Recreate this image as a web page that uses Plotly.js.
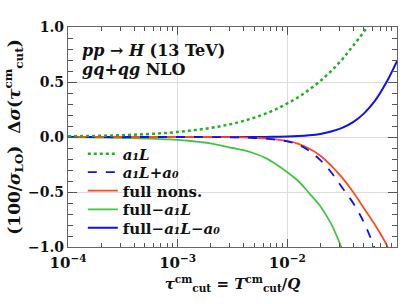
<!DOCTYPE html>
<html><head><meta charset="utf-8">
<script src="https://cdn.plot.ly/plotly-3.0.1.min.js"></script>
<style>html,body{margin:0;padding:0;background:#fff}#chart{width:415px;height:304px}</style>
</head><body><div id="chart"></div>
<script>
var tau = [1.00e-4,1.26e-4,1.58e-4,2.00e-4,2.51e-4,3.16e-4,3.98e-4,5.01e-4,6.31e-4,7.94e-4,
           1.00e-3,1.26e-3,1.58e-3,2.00e-3,2.51e-3,3.16e-3,3.98e-3,5.01e-3,6.31e-3,7.94e-3,
           1.00e-2,1.26e-2,1.58e-2,2.00e-2,2.51e-2,3.16e-2,3.98e-2,5.01e-2,6.31e-2,7.94e-2,1.00e-1];
var a1L = [0.006,0.0075,0.009,0.011,0.014,0.017,0.021,0.025,0.031,0.037,
           0.046,0.056,0.068,0.082,0.100,0.120,0.146,0.176,0.212,0.254,
           0.305,0.362,0.43,0.51,0.60,0.705,0.83,0.96,1.12,1.3,1.5];
var a1La0 = [0,0,0,0,0,0,0,0,0,0,
             0,0,0,-0.001,-0.002,-0.003,-0.005,-0.009,-0.015,-0.025,
             -0.04,-0.07,-0.125,-0.21,-0.32,-0.46,-0.60,-0.78,-1.02,-1.3,-1.65];
var fullNons = [0,0,0,0,0,0,0,0,0,0,
                0,0,0,0,-0.001,-0.002,-0.004,-0.008,-0.013,-0.022,
                -0.036,-0.062,-0.105,-0.17,-0.26,-0.37,-0.50,-0.65,-0.80,-0.97,-1.2];
var fullMinusA1L = [-0.002,-0.003,-0.004,-0.005,-0.007,-0.009,-0.011,-0.014,-0.017,-0.021,
                    -0.026,-0.034,-0.045,-0.058,-0.078,-0.10,-0.12,-0.15,-0.19,-0.25,
                    -0.32,-0.40,-0.51,-0.63,-0.79,-1.02,-1.3,-1.6,-2.0,-2.4,-2.9];
var fullMinusA1LA0 = [0,0,0,0,0,0,0,0,0,0,
                      0,0,0,0,0,0,0,0,0,0.002,
                      0.004,0.008,0.015,0.028,0.05,0.083,0.135,0.215,0.33,0.49,0.69];
var xTickVals = [1e-4,1e-3,1e-2,1e-1];
var xTickText = ['<b>10<sup>\u22124</sup></b>','<b>10<sup>\u22123</sup></b>','<b>10<sup>\u22122</sup></b>','<b>10<sup>\u22121</sup></b>'];
var yTickVals = [-1.0,-0.5,0.0,0.5,1.0];
var yTickText = ['<b>\u22121.0</b>','<b>\u22120.5</b>','<b>0.0</b>','<b>0.5</b>','<b>1.0</b>'];

var F = 'DejaVu Serif, Liberation Serif, serif';
var GREEN_D = '#22b022', GREEN = '#44c444', RED = '#ff4a1a', BLUE = '#1010f0';

var traces = [
  {x: tau, y: fullMinusA1L, mode:'lines', name:'<b>full\u2212<i>a\u2081L</i></b>', legend:'legend4',
   line:{color:GREEN, width:1.8, shape:'spline'}},
  {x: tau, y: fullMinusA1LA0, mode:'lines', name:'<b>full\u2212<i>a\u2081L</i>\u2212<i>a\u2080</i></b>', legend:'legend5',
   line:{color:BLUE, width:2, shape:'spline'}},
  {x: tau, y: fullNons, mode:'lines', name:'<b>full nons.</b>', legend:'legend3',
   line:{color:RED, width:1.8, shape:'spline'}},
  {x: tau, y: a1La0, mode:'lines', name:'<b><i>a\u2081L</i>+<i>a\u2080</i></b>', legend:'legend2',
   line:{color:BLUE, width:1.8, dash:'dash', shape:'spline'}},
  {x: tau, y: a1L, mode:'lines', name:'<b><i>a\u2081L</i></b>', legend:'legend',
   line:{color:GREEN_D, width:2.5, dash:'dot', shape:'spline'}}
];

function leg(y){
  return {x:0.045, y:y, xanchor:'left', yanchor:'middle', bgcolor:'rgba(0,0,0,0)',
          font:{family:F, size:15, color:'#111'}, itemwidth:30};
}

var layout = {
  width:415, height:304,
  margin:{l:68, r:18, t:27, b:57},
  paper_bgcolor:'#fff', plot_bgcolor:'#fff',
  font:{family:F, size:15, color:'#111'},
  showlegend:true,
  legend:leg(0.423), legend2:leg(0.339), legend3:leg(0.255), legend4:leg(0.170), legend5:leg(0.086),
  xaxis:{type:'log', range:[-4,-1], tickvals:xTickVals, ticktext:xTickText,
         ticks:'inside', ticklen:8, tickcolor:'#555', linecolor:'#666', linewidth:1.2, mirror:'ticks',
         showgrid:true, gridcolor:'#dddddd', gridwidth:1, zeroline:false,
         tickfont:{family:F, size:15, color:'#111'}, ticklabelstandoff:2,
         minor:{dtick:'D1', ticks:'inside', ticklen:4, tickcolor:'#555', showgrid:false},
         title:{text:'<b><i>\u03c4</i><sup>cm</sup><sub>cut</sub> = <i>T</i><sup>cm</sup><sub>cut</sub>/<i>Q</i></b>',
                font:{family:F, size:15, color:'#111'}, standoff:7}},
  yaxis:{range:[-1,1], tickvals:yTickVals, ticktext:yTickText,
         ticks:'inside', ticklen:9, tickcolor:'#555', linecolor:'#666', linewidth:1.2, mirror:'ticks',
         showgrid:true, gridcolor:'#dddddd', gridwidth:1, zeroline:false,
         tickfont:{family:F, size:14, color:'#111'},
         minor:{dtick:0.1, ticks:'inside', ticklen:5, tickcolor:'#555', showgrid:false},
         title:{text:'<b>(100/<i>\u03c3</i><sub>LO</sub>)  \u0394<i>\u03c3</i>(<i>\u03c4</i><sup>cm</sup><sub>cut</sub>)</b>',
                font:{family:F, size:17, color:'#111'}, standoff:3}},
  annotations:[
    {xref:'paper', yref:'paper', x:0.035, y:0.895, xanchor:'left', yanchor:'middle', showarrow:false,
     text:'<b><i>pp</i> \u2192 <i>H</i> (13 TeV)</b>', font:{family:F, size:16, color:'#111'}},
    {xref:'paper', yref:'paper', x:0.035, y:0.805, xanchor:'left', yanchor:'middle', showarrow:false,
     text:'<b><i>gq</i>+<i>qg</i> NLO</b>', font:{family:F, size:16, color:'#111'}}
  ]
};
Plotly.newPlot('chart', traces, layout, {displayModeBar:false, staticPlot:true});
</script></body></html>
